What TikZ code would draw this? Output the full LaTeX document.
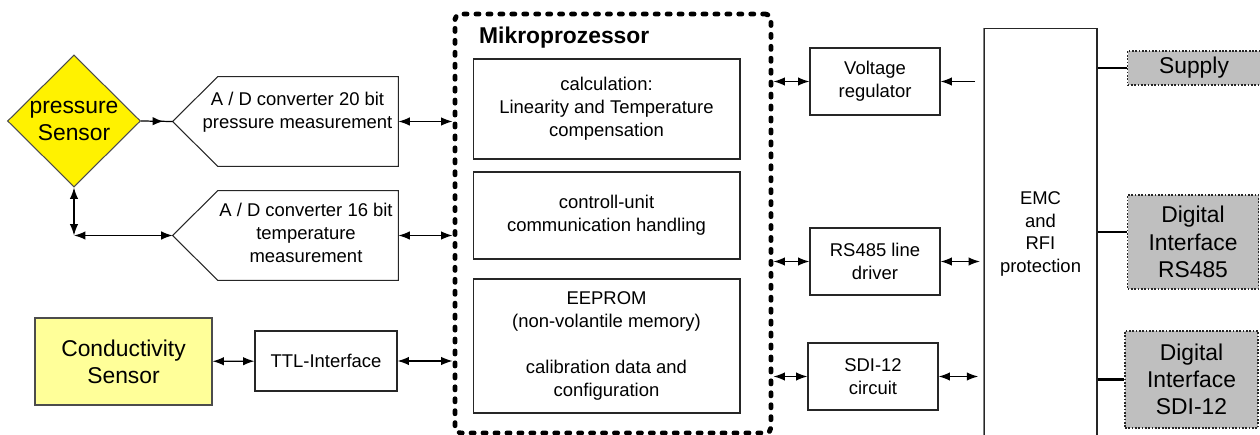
\documentclass[tikz,border=0pt]{standalone}
\usepackage{fontspec}
\setmainfont{Liberation Sans}
\usepackage{xcolor}
\usetikzlibrary{arrows.meta,calc,positioning,shapes.geometric,decorations.markings}
\definecolor{condyellow}{RGB}{255,255,153}
\tikzset{%
	block/.style    = {draw=black!85, line width=0.6pt, rectangle, align=center, font=\fontsize{10.5}{13}\selectfont},
	adcbody/.style  = {rectangle, inner sep=0pt, minimum width=3.6cm, minimum height=1.78cm},
	adctext/.style  = {align=center, inner sep=0pt, font=\fontsize{10.5}{13}\selectfont},
	sensor/.style   = {draw=black!70, line width=0.6pt, align=center, inner sep=0pt, font=\fontsize{13}{15.5}\selectfont},
	port/.style     = {draw=black!85, line width=1.1pt, dash pattern=on 1pt off 0.9pt, fill=gray!50, align=center, inner sep=0pt, font=\fontsize{13}{15.5}\selectfont},
	cpu/.style      = {draw, line width=2.8pt, dash pattern=on 1.7pt off 5.1pt, line cap=round, rounded corners=3pt},
	link/.style     = {{Latex[length=6.5pt,width=4.8pt]}-{Latex[length=6.5pt,width=4.8pt]}, line width=0.75pt},
	feed/.style     = {-{Latex[length=6.5pt,width=4.8pt]}, line width=0.75pt},
	midarrow/.style = {line width=0.7pt, postaction={decorate}, decoration={markings, mark=at position 0.7 with {\arrow{Latex[length=6pt,width=4.8pt]}}}},
	bus/.style      = {line width=1.2pt},
}

\begin{document}
\begin{tikzpicture}[x=0.02cm,y=-0.02cm]
	\useasboundingbox (0,0) rectangle (1260,435);
	
	% sensors
	\node[sensor, diamond, fill=yellow, minimum width=2.66cm, minimum height=2.64cm] (press) at (74,121) {pressure\\Sensor};
	\node[sensor, rectangle, fill=condyellow, minimum width=3.54cm, minimum height=1.74cm] (cond) at (123.5,361.5) {Conductivity\\Sensor};
	
	% converters
	\node[adcbody] (adcP) at (308,121.5) {};
	\draw[line width=0.6pt, draw=black!85] (adcP.north west) -- (adcP.north east) -- (adcP.south east) -- (adcP.south west) -- ($(adcP.west)+(-45,0)$) coordinate (adcPtip) -- cycle;
	\node[adctext] (adcPlabel) at (297.5,112) {A / D converter 20 bit\\pressure measurement};
	\node[adcbody] (adcT) at (308,235.5) {};
	\draw[line width=0.6pt, draw=black!85] (adcT.north west) -- (adcT.north east) -- (adcT.south east) -- (adcT.south west) -- ($(adcT.west)+(-45,0)$) coordinate (adcTtip) -- cycle;
	\node[adctext] (adcTlabel) at (306,233) {A / D converter 16 bit\\temperature\\measurement};
	\node[block, minimum width=2.84cm, minimum height=1.2cm] (ttl) at (326,361) {TTL-Interface};
	
	% Mikroprozessor
	\node[cpu, minimum width=6.32cm, minimum height=8.38cm] (mp) at (613,223.5) {};
	\node[anchor=west, font=\bfseries\fontsize{13}{15.5}\selectfont] (mptitle) at (473,38) {Mikroprozessor};
	\node[block, minimum width=5.34cm, minimum height=2cm] (calcu) at (606.5,109) {calculation:\\Linearity and Temperature\\compensation};
	\node[block, minimum width=5.34cm, minimum height=1.74cm] (ctrl) at (606.5,215.5) {controll-unit\\communication handling};
	\node[block, minimum width=5.34cm, minimum height=2.68cm] (eeprom) at (606.5,346) {EEPROM\\(non-volantile memory)\\[13pt]calibration data and\\configuration};
	
	% line side
	\node[block, minimum width=2.6cm, minimum height=1.34cm] (volt) at (875,81.5) {Voltage\\regulator};
	\node[block, minimum width=2.6cm, minimum height=1.34cm] (rs) at (875,261.5) {RS485 line\\driver};
	\node[block, minimum width=2.6cm, minimum height=1.34cm] (sdi) at (873,376.5) {SDI-12\\circuit};
	\node[block, minimum width=2.26cm, minimum height=8.24cm] (emc) at (1040.5,234) {EMC\\and\\RFI\\protection};
	\draw[gray, line width=0.6pt] (emc.north west) -- (emc.south west);
	
	% outputs
	\node[port, minimum width=2.66cm, minimum height=0.68cm] (supply) at (1194,68) {Supply};
	\node[port, minimum width=2.62cm, minimum height=1.88cm] (dRS) at (1193,242) {Digital\\Interface\\RS485};
	\node[port, minimum width=2.66cm, minimum height=1.94cm] (dSDI) at (1191.5,379.5) {Digital\\Interface\\SDI-12};
	
	% connections left
	\draw[midarrow] (press.east) -- (adcPtip);
	\coordinate (bend) at (press.south |- adcTtip);
	\draw[link] (press.south) -- (bend);
	\draw[link] (bend) -- (adcTtip);
	\draw[link] (adcP.east) -- (mp.west |- adcP.east);
	\draw[link] (adcT.east) -- (mp.west |- adcT.east);
	\draw[link] (cond) -- (ttl);
	\draw[link] (ttl) -- (mp.west |- ttl);
	
	% connections right
	\draw[link] (mp.east |- volt) -- (volt);
	\coordinate (vin) at (975,81.5);
	\draw[feed] (vin) -- (volt);
	\draw[link] (mp.east |- rs) -- (rs);
	\draw[link, shorten >=2pt] (rs) -- (rs -| emc.west);
	\draw[link] (mp.east |- sdi) -- (sdi);
	\draw[link, shorten >=3pt] (sdi) -- (sdi -| emc.west);
	\draw[bus] (emc.east |- supply) -- (supply);
	\coordinate (dRSin) at ([yshift=0.2cm]dRS.west);
	\draw[bus] (emc.east |- dRSin) -- (dRSin);
	\draw[bus] (emc.east |- dSDI) -- (dSDI);
	
\end{tikzpicture}
\end{document}
